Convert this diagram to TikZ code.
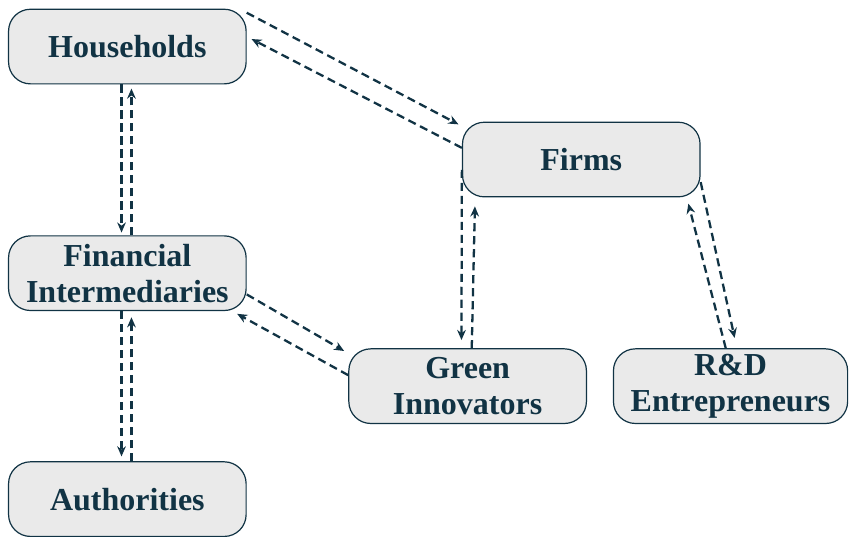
\documentclass[tikz,border=0pt]{standalone}
\usepackage{fontspec}
\setmainfont{Liberation Serif}
\usepackage{tikz}
\usetikzlibrary{arrows.meta}

\definecolor{ink}{RGB}{17,51,68}
\definecolor{boxfill}{RGB}{234,234,234}

\begin{document}
\begin{tikzpicture}[
	agent/.style={draw=ink, line width=0.5pt, fill=boxfill, rounded corners=0.32cm,
		minimum width=3.47cm, minimum height=1.09cm, inner sep=0pt, align=center,
		text=ink, font=\fontsize{13.3}{15}\selectfont\bfseries},
	flow/.style={draw=ink, line width=0.95pt, dash pattern=on 3.4pt off 2pt,
		-{Stealth[length=4.2pt,width=3.6pt]}}
	]
			\useasboundingbox (0,0) rectangle (12.40,7.84);
			\node[agent] (hh) at (1.86,7.16) {Households};
			\node[agent] (fm) at (8.49,5.51) {Firms};
			\node[agent] (fin) at (1.86,3.85) {Financial\\Intermediaries};
			\node[agent] (gr) at (6.83,2.20) {Green\\Innovators};
			\node[agent, minimum width=3.42cm] (rd) at (10.67,2.20) {R\&D\\Entrepreneurs};
			\node[agent] (au) at (1.86,0.55) {Authorities};
			% households <-> firms
			\draw[flow] ([yshift=-0.06cm]hh.north east) -- ([xshift=-0.05cm,yshift=-0.04cm]fm.north west);
			\draw[flow] ([yshift=0.17cm]fm.west) -- ([xshift=0.07cm,yshift=0.11cm]hh.east);
			% households <-> intermediaries
			\draw[flow] ([xshift=-0.085cm]hh.south) -- ([xshift=-0.085cm,yshift=0.04cm]fin.north);
			\draw[flow] ([xshift=0.06cm]fin.north) -- ([xshift=0.06cm,yshift=-0.06cm]hh.south);
			% intermediaries <-> authorities
			\draw[flow] ([xshift=-0.085cm]fin.south) -- ([xshift=-0.085cm,yshift=0.07cm]au.north);
			\draw[flow] ([xshift=0.06cm]au.north) -- ([xshift=0.06cm,yshift=-0.09cm]fin.south);
			% intermediaries <-> green innovators
			\draw[flow] ([yshift=-0.31cm]fin.east) -- ([xshift=-0.06cm,yshift=-0.04cm]gr.north west);
			\draw[flow] ([yshift=0.16cm]gr.west) -- ([xshift=-0.14cm,yshift=-0.04cm]fin.south east);
			% firms <-> green innovators
			\draw[flow] ([yshift=-0.15cm]fm.west) -- ([xshift=-0.09cm,yshift=0.12cm]gr.north);
			\draw[flow] ([xshift=0.06cm]gr.north) -- ([xshift=0.19cm,yshift=-0.13cm]fm.south west);
			% firms <-> R&D
			\draw[flow] ([yshift=-0.33cm]fm.east) -- ([xshift=0.06cm,yshift=0.15cm]rd.north);
			\draw[flow] ([xshift=-0.07cm]rd.north) -- ([xshift=-0.18cm,yshift=-0.09cm]fm.south east);
		\end{tikzpicture}
\end{document}
